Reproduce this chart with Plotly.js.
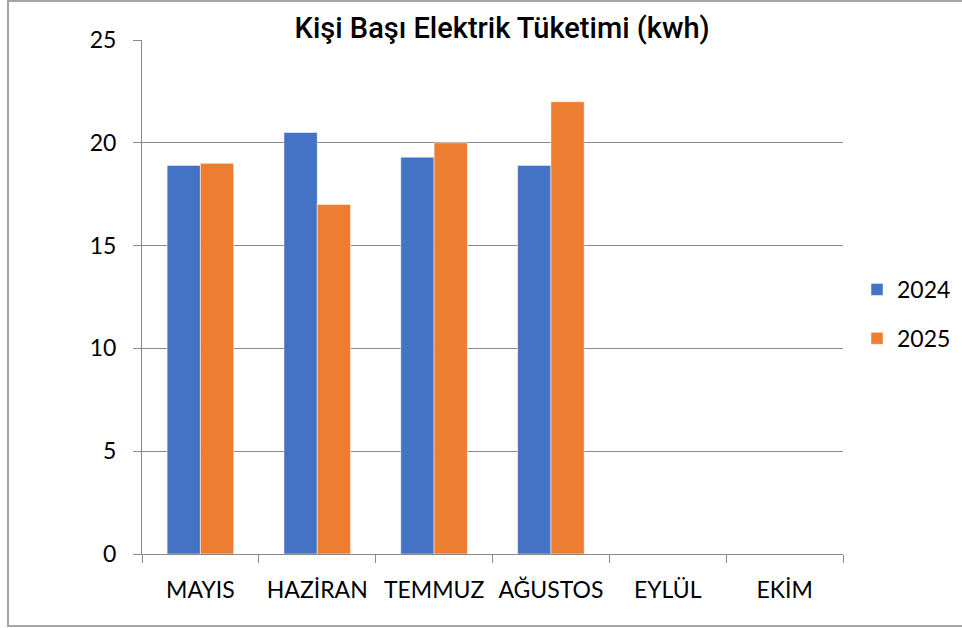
<!DOCTYPE html>
<html>
<head>
<meta charset="utf-8">
<script src="https://cdn.plot.ly/plotly-3.0.1.min.js"></script>
<style>
  body { margin: 0; background: #fff; }
  #wrap { position: relative; width: 962px; height: 628px; overflow: hidden; }
  #chart { width: 962px; height: 628px; }
  #frame { position: absolute; left: 7px; top: 0px; width: 980px; height: 627px;
           border: 2px solid #a6a6a6; pointer-events: none; box-sizing: border-box; }
</style>
</head>
<body>
<div id="wrap">
  <div id="chart"></div>
  <div id="frame"></div>
</div>
<script>
// months shown on the x axis
const months = ['MAYIS', 'HAZİRAN', 'TEMMUZ', 'AĞUSTOS', 'EYLÜL', 'EKİM'];
// kwh per person, no data yet for the last two months
const values2024 = [18.9, 20.5, 19.3, 18.9, null, null];
const values2025 = [19.0, 17.0, 20.0, 22.0, null, null];
const yTicks = [0, 5, 10, 15, 20, 25];

const tickFont = { family: 'Lato, "Open Sans", sans-serif', size: 23, color: '#000' };

const traces = [
    {
        x: months, y: values2024, type: 'bar', name: '2024', legendgroup: 'a',
        marker: { color: '#4472C4', line: { color: 'rgba(255,255,255,0.5)', width: 1 } }
    },
    {
        x: months, y: values2025, type: 'bar', name: '2025', legendgroup: 'b',
        marker: { color: '#ED7D31', line: { color: 'rgba(255,255,255,0.5)', width: 1 } }
    }
];

const layout = {
    width: 962,
    height: 628,
    margin: { l: 142, r: 119, t: 40, b: 74, autoexpand: false },
    paper_bgcolor: '#fff',
    plot_bgcolor: '#fff',
    barmode: 'group',
    bargap: 0.43,
    bargroupgap: 0,
    title: {
        text: 'Kişi Başı Elektrik Tüketimi (kwh)',
        font: { family: 'Roboto, "Liberation Sans", sans-serif', size: 29, weight: 500, color: '#000' },
        xref: 'container', yref: 'container',
        x: 0.522, xanchor: 'center',
        y: 1 - 28 / 628, yanchor: 'middle'
    },
    xaxis: {
        type: 'category',
        showline: true, linecolor: '#898989', linewidth: 1,
        ticks: 'outside', ticklen: 8, tickcolor: '#898989', tickson: 'boundaries',
        tickfont: tickFont,
        ticklabelstandoff: 15,
        showgrid: false,
        fixedrange: true
    },
    yaxis: {
        range: [0, 25],
        tickvals: yTicks,
        showline: true, linecolor: '#898989', linewidth: 1,
        ticks: 'outside', ticklen: 8, tickcolor: '#898989',
        gridcolor: '#898989', gridwidth: 1,
        zeroline: false,
        tickfont: tickFont,
        ticklabelstandoff: 12,
        fixedrange: true
    },
    showlegend: true,
    legend: {
        x: 1.020, xanchor: 'left',
        y: 0.467, yanchor: 'middle',
        font: tickFont,
        tracegroupgap: 16,
        itemwidth: 30
    }
};

Plotly.newPlot('chart', traces, layout, { displayModeBar: false, staticPlot: true });
</script>
</body>
</html>
